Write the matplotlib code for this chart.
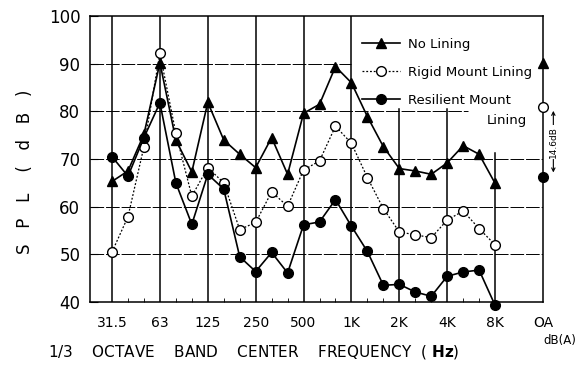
import matplotlib.pyplot as plt
from matplotlib.lines import Line2D

plt.rcParams['font.family'] = ['DejaVu Sans']

# 1/3 octave bands 31.5 Hz .. 8 kHz, then overall level
bands = ['31.5', '40', '50', '63', '80', '100', '125', '160', '200', '250',
         '315', '400', '500', '630', '800', '1K', '1.25K', '1.6K', '2K',
         '2.5K', '3.15K', '4K', '5K', '6.3K', '8K']
tick_labels = ['31.5', '63', '125', '250', '500', '1K', '2K', '4K', '8K', 'OA']

no_lining = [65.3, 67.5, 75.2, 90.2, 74.0, 67.3, 81.9, 74.0, 71.0, 68.2,
             74.5, 66.8, 79.6, 81.5, 89.4, 86.0, 78.9, 72.6, 68.0,
             67.5, 66.8, 69.2, 72.8, 71.0, 64.9]
rigid = [50.5, 57.9, 72.6, 92.2, 75.4, 62.2, 68.2, 65.0, 55.2, 56.7,
         63.1, 60.1, 67.7, 69.6, 76.9, 73.3, 66.1, 59.6, 54.7,
         54.1, 53.5, 57.2, 59.1, 55.4, 52.0]
resilient = [70.5, 66.4, 74.5, 81.8, 65.0, 56.3, 66.8, 63.7, 49.5, 46.4,
             50.4, 46.1, 56.2, 56.8, 61.5, 55.9, 50.6, 43.5, 43.7,
             42.1, 41.2, 45.4, 46.3, 46.7, 39.3]
oa_no_lining = 90.1
oa_rigid = 81.0
oa_resilient = 66.3

x = list(range(len(bands)))
oa_x = 27
octave_x = [0, 3, 6, 9, 12, 15, 18, 21, 24]

fig = plt.figure(figsize=(5.78, 3.74), dpi=100)
ax = fig.add_axes([0.1557, 0.1925, 0.7837, 0.7645])

# grid: solid octave lines (some stop below the legend), dashed level lines
vline_tops = [100, 100, 100, 100, 100, 100, 80.5, 80.5, 71.3]
for xv, top in zip(octave_x, vline_tops):
    ax.plot([xv, xv], [40, top], color='black', lw=1.1, zorder=1)
hline_ends = {50: oa_x, 60: oa_x, 70: oa_x, 80: 22.3, 90: 15}
for yv, end in hline_ends.items():
    ax.plot([-1.38, end], [yv, yv], color='black', lw=0.7,
            linestyle=(0, (14, 2)), zorder=1)

# series
ax.plot(x, no_lining, color='black', lw=1.2, marker='^', ms=6.5, zorder=3,
        clip_on=False)
ax.plot(x, rigid, color='black', lw=0.9, linestyle=(0, (1.5, 1.5)), marker='o',
        ms=7, mfc='white', mec='black', mew=1, zorder=3, clip_on=False)
ax.plot(x, resilient, color='black', lw=1.2, marker='o', ms=7, zorder=3,
        clip_on=False)
ax.plot(oa_x, oa_no_lining, marker='^', color='black', ms=6.5, clip_on=False, zorder=4)
ax.plot(oa_x, oa_rigid, marker='o', ms=7, mfc='white', mec='black', mew=1,
        clip_on=False, zorder=4)
ax.plot(oa_x, oa_resilient, marker='o', color='black', ms=7, clip_on=False, zorder=4)

ax.set_xlim(-1.38, oa_x)
ax.set_ylim(40, 100)
ax.set_yticks(range(40, 101, 10))
ax.tick_params(axis='y', direction='in', length=6, labelsize=12, pad=7)
ax.set_xticks(octave_x + [oa_x])
ax.set_xticklabels(tick_labels)
ax.tick_params(axis='x', length=0, labelsize=10, pad=10)
ax.set_xticks(x, minor=True)
ax.tick_params(axis='x', which='minor', direction='in', length=3)
for s in ax.spines.values():
    s.set_linewidth(1.1)

# 14.6 dB difference marker at the overall level
ann_x = 27.65
ax.annotate('', xy=(ann_x, 80.7), xytext=(ann_x, 66.6),
            arrowprops=dict(arrowstyle='<->', lw=0.8, color='black',
                            mutation_scale=6), annotation_clip=False)
ax.text(ann_x, 73.6, '14.6dB', rotation=90, fontsize=6.5, ha='center', va='center',
        bbox=dict(facecolor='white', edgecolor='none', pad=0.5), clip_on=False)

handles = [
    Line2D([], [], color='black', lw=1.2, marker='^', ms=6.5),
    Line2D([], [], color='black', lw=0.9, linestyle=(0, (1.5, 1.5)), marker='o',
           ms=7, mfc='white', mec='black'),
    Line2D([], [], color='black', lw=1.2, marker='o', ms=7),
]
leg = ax.legend(handles, ['No Lining', 'Rigid Mount Lining', 'Resilient Mount'],
                loc='upper left', bbox_to_anchor=(0.6, 0.925), frameon=False,
                fontsize=9.5, handlelength=2.9, handletextpad=0.6, labelspacing=1.15,
                borderpad=0, borderaxespad=0)
ax.text(0.965, 0.636, 'Lining', transform=ax.transAxes, fontsize=9.5,
        ha='right', va='center')

fig.text(0.043, 0.54, 'S   P   L    (   d   B   )', rotation=90, fontsize=12,
         ha='center', va='center')
fig.text(0.083, 0.058, r'1/3    OCTAVE    BAND    CENTER    FREQUENCY  ( $\mathbf{Hz}$)',
         fontsize=11, ha='left', va='center')
fig.text(0.968, 0.09, 'dB(A)', fontsize=8.5, ha='center', va='center')

fig.savefig('out.png', dpi=100)
